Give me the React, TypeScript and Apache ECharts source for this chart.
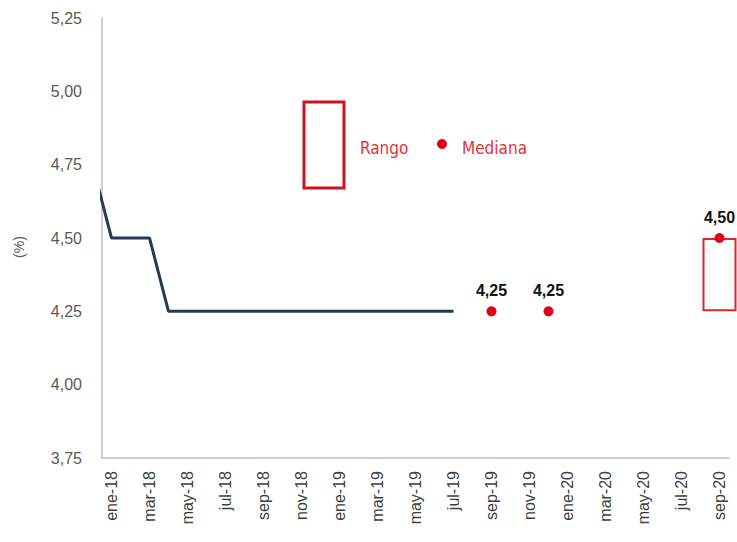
import React, { useEffect, useRef } from "react";
import * as echarts from "echarts";

// Months on the category axis (ene-18 .. sep-20)
const months: string[] = [
  "ene-18", "feb-18", "mar-18", "abr-18", "may-18", "jun-18", "jul-18", "ago-18", "sep-18", "oct-18", "nov-18", "dic-18",
  "ene-19", "feb-19", "mar-19", "abr-19", "may-19", "jun-19", "jul-19", "ago-19", "sep-19", "oct-19", "nov-19", "dic-19",
  "ene-20", "feb-20", "mar-20", "abr-20", "may-20", "jun-20", "jul-20", "ago-20", "sep-20",
];

// Policy rate, monthly, starting one month before the axis (dic-17)
const policyStartOffset = -1; // dic-17 sits one month left of ene-18
const policyRate: number[] = [
  4.75, // dic-17
  4.5, 4.5, 4.5, 4.25, 4.25, 4.25, 4.25, 4.25, 4.25, 4.25, 4.25, 4.25, // ene-18 .. dic-18
  4.25, 4.25, 4.25, 4.25, 4.25, 4.25, 4.25, // ene-19 .. jul-19
];

// Survey median expectations
const medianMonths: string[] = ["sep-19", "dic-19", "sep-20"];
const medianValues: number[] = [4.25, 4.25, 4.5];

// Survey range (min / max)
const rangeMonths: string[] = ["sep-20"];
const rangeLow: number[] = [4.25];
const rangeHigh: number[] = [4.5];

const yTicks = { min: 3.75, max: 5.25, interval: 0.25 };

const fmt = (v: number) => v.toFixed(2).replace(".", ",");

export default function App() {
  const ref = useRef<HTMLDivElement>(null);

  useEffect(() => {
    if (!ref.current) return;
    const chart = echarts.init(ref.current, undefined, { renderer: "svg" });

    const lowData = months.map((m) => {
      const i = rangeMonths.indexOf(m);
      return i >= 0 ? rangeLow[i] : null;
    });
    const spanData = months.map((m) => {
      const i = rangeMonths.indexOf(m);
      return i >= 0 ? +(rangeHigh[i] - rangeLow[i]).toFixed(4) : null;
    });

    const font = "'Liberation Sans', Arial, sans-serif";
    const narrow = "'Liberation Sans Narrow', 'DejaVu Sans Condensed', 'Liberation Sans', sans-serif";

    chart.setOption({
      animation: false,
      backgroundColor: "#ffffff",
      grid: { left: 102, right: 8, top: 18, bottom: 84, containLabel: false },
      xAxis: [
        {
          type: "category",
          data: months,
          boundaryGap: true,
          axisLine: { show: true, onZero: false, lineStyle: { color: "#bfbfbf", width: 1.5 } },
          axisTick: { show: false },
          axisLabel: {
            interval: 1,
            rotate: 90,
            margin: 13,
            color: "#404040",
            fontSize: 16,
            fontFamily: font,
          },
          splitLine: { show: false },
        },
        {
          type: "value",
          min: -0.5,
          max: months.length - 0.5,
          show: false,
          splitLine: { show: false },
        },
      ],
      yAxis: {
        type: "value",
        min: yTicks.min,
        max: yTicks.max,
        interval: yTicks.interval,
        name: "(%)",
        nameLocation: "middle",
        nameRotate: 90,
        nameGap: 76,
        nameTextStyle: { color: "#595959", fontSize: 14, fontFamily: font, padding: [0, 0, 0, -18] },
        axisLine: { show: true, onZero: false, lineStyle: { color: "#bfbfbf", width: 1.5 } },
        axisTick: { show: false },
        splitLine: { show: false },
        axisLabel: {
          margin: 20,
          color: "#595959",
          fontSize: 16,
          fontFamily: font,
          formatter: (v: number) => fmt(v),
        },
      },
      series: [
        {
          name: "base",
          type: "bar",
          stack: "rango",
          xAxisIndex: 0,
          data: lowData,
          barWidth: 34,
          itemStyle: { color: "transparent" },
          silent: true,
          clip: false,
          z: 1,
        },
        {
          name: "Rango",
          type: "bar",
          stack: "rango",
          xAxisIndex: 0,
          data: spanData,
          barWidth: 34,
          itemStyle: { color: "rgba(255,255,255,0)", borderColor: "#d42a30", borderWidth: 2 },
          clip: false,
          z: 2,
        },
        {
          name: "Tasa",
          type: "line",
          xAxisIndex: 1,
          data: policyRate.map((v, i) => [i + policyStartOffset, v]),
          showSymbol: false,
          clip: true,
          lineStyle: { color: "#243a56", width: 3 },
          z: 3,
        },
        {
          name: "Mediana",
          type: "scatter",
          xAxisIndex: 0,
          data: medianMonths.map((m, i) => [m, medianValues[i]]),
          symbol: "circle",
          symbolSize: 10,
          itemStyle: { color: "#e3001b", opacity: 1 },
          label: {
            show: true,
            position: "top",
            distance: 8,
            formatter: (p: any) => fmt(p.value[1]),
            color: "#111111",
            fontSize: 16,
            fontWeight: "bold",
            fontFamily: font,
          },
          z: 5,
        },
      ],
      graphic: [
        {
          type: "rect",
          shape: { x: 304, y: 102, width: 40, height: 86 },
          style: { fill: "none", stroke: "#c8161f", lineWidth: 3 },
        },
        {
          type: "text",
          x: 360,
          y: 148,
          style: {
            text: "Rango",
            fill: "#e2343b",
            fontSize: 17,
            fontFamily: narrow,
            verticalAlign: "middle",
          },
        },
        {
          type: "circle",
          shape: { cx: 442, cy: 144, r: 5 },
          style: { fill: "#e3001b" },
        },
        {
          type: "text",
          x: 462,
          y: 148,
          style: {
            text: "Mediana",
            fill: "#e2343b",
            fontSize: 17,
            fontFamily: narrow,
            verticalAlign: "middle",
          },
        },
      ],
    });

    return () => chart.dispose();
  }, []);

  return (
    <div
      ref={ref}
      style={{ position: "fixed", left: 0, top: 0, width: 737, height: 542, background: "#fff" }}
    />
  );
}
